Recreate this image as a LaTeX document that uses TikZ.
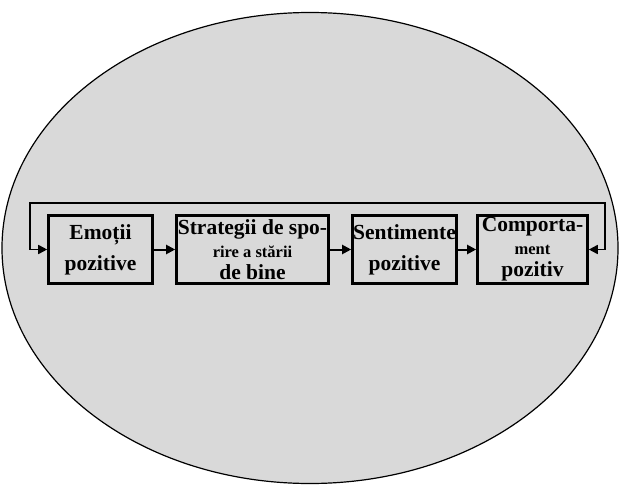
\documentclass[tikz,border=0pt]{standalone}
\usepackage{fontspec}
\setmainfont{Liberation Serif}
\usetikzlibrary{arrows.meta}

\tikzset{
  box/.style={draw, line width=2.6pt, minimum height=68pt, inner sep=0pt,
    align=center, font=\bfseries\fontsize{21.5}{31}\selectfont},
  link/.style={line width=2pt, -{Triangle[length=9pt,width=9pt]}},
  loop/.style={line width=1.7pt, {Triangle[length=9pt,width=9pt]}-{Triangle[length=9pt,width=9pt]}}
}
\newcommand{\smalltxt}{\fontsize{16.5}{16.5}\selectfont}

\begin{document}
\begin{tikzpicture}[x=1pt,y=-1pt]
    \useasboundingbox (0,0) rectangle (620,484);
    % background oval
    \draw[fill=black!15, line width=1.2pt] (310,248) ellipse [x radius=308, y radius=235.5];
    % the four steps
    \node[box, minimum width=104pt] (emo) at (100.5,249.5) {Emoții\\pozitive};
    \node[box, minimum width=152pt] (strat) at (252.5,249.5)
      {Strategii de spo-\\[-8pt]{\smalltxt rire a stării}\\[-9pt]de bine};
    \node[box, minimum width=104pt] (sent) at (404.5,249.5) {Sentimente\\pozitive};
    \node[box, minimum width=110pt] (comp) at (532.5,249.5)
      {Comporta-\\[-8pt]{\smalltxt ment}\\[-9pt]pozitiv};
    \draw[link] (emo) -- (strat);
    \draw[link] (strat) -- (sent);
    \draw[link] (sent) -- (comp);
    % feedback loop over the top
    \coordinate (topl) at (30,203);
    \coordinate (topr) at (605,203);
    \draw[loop] (emo.west) -| (topl) -- (topr) |- (comp.east);
\end{tikzpicture}
\end{document}
